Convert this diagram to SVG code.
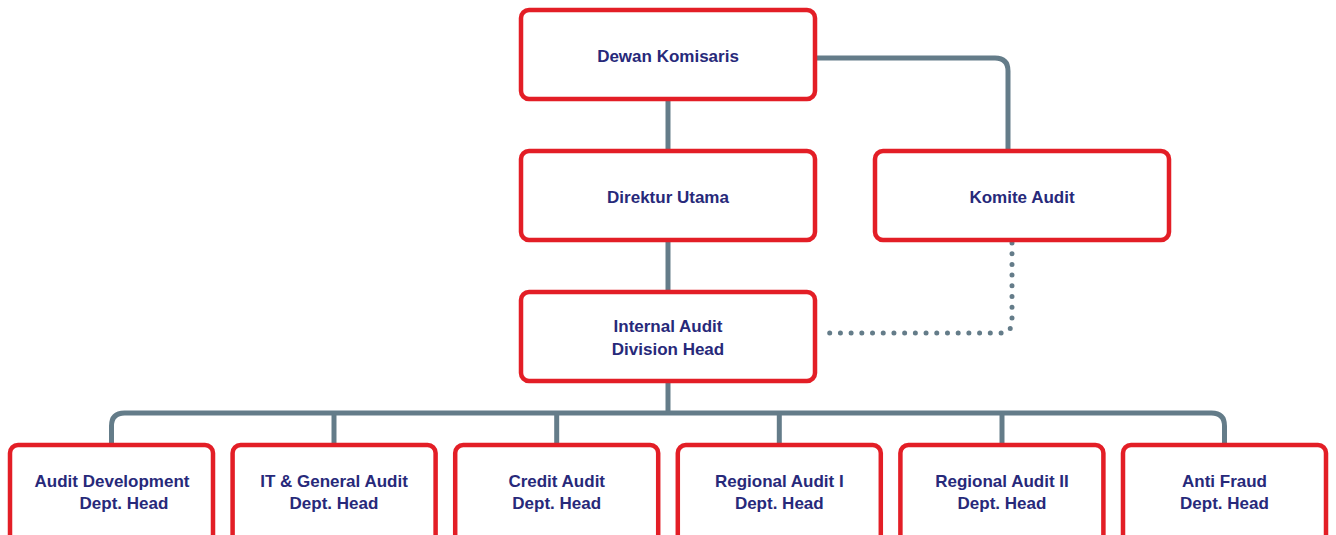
<svg xmlns="http://www.w3.org/2000/svg" width="1336" height="535" viewBox="0 0 1336 535">
  <style>
    .box { fill: #ffffff; stroke: #e31e26; stroke-width: 4.5; }
    .line { fill: none; stroke: #647c89; stroke-width: 5; }
    .dots { fill: none; stroke: #647c89; stroke-width: 5; stroke-linecap: round; stroke-dasharray: 0 1; }
    .label { font-family: "Liberation Sans", Arial, sans-serif; font-weight: bold; font-size: 17px; fill: #27297a; text-anchor: middle; }
  </style>
  <rect width="1336" height="535" fill="#ffffff"/>

  <!-- connectors, drawn beneath the boxes -->
  <g id="connectors">
    <path class="line" d="M668 99 V151"/>
    <path class="line" d="M668 240 V292"/>
    <path class="line" d="M815 58 H995 Q1008 58 1008 71 V151"/>
    <!-- dotted reporting line; pathLength keeps a dot on each end -->
    <path class="dots" pathLength="26" d="M1012 243 V321 Q1012 333 1000 333 H819"/>
    <path class="line" d="M668 381 V413"/>
    <path class="line" d="M111.5 445 V426 Q111.5 413 124.5 413 H1211.5 Q1224.5 413 1224.5 426 V445"/>
    <path class="line" d="M334 413 V445"/>
    <path class="line" d="M556.7 413 V445"/>
    <path class="line" d="M779.3 413 V445"/>
    <path class="line" d="M1002 413 V445"/>
  </g>

  <g id="dewan-komisaris">
    <rect class="box" x="521" y="10" width="294" height="89" rx="8"/>
    <text class="label" x="668" y="62">Dewan Komisaris</text>
  </g>

  <g id="direktur-utama">
    <rect class="box" x="521" y="151" width="294" height="89" rx="8"/>
    <text class="label" x="668" y="203">Direktur Utama</text>
  </g>

  <g id="komite-audit">
    <rect class="box" x="875" y="151" width="294" height="89" rx="8"/>
    <text class="label" x="1022" y="203">Komite Audit</text>
  </g>

  <g id="internal-audit">
    <rect class="box" x="521" y="292" width="294" height="89" rx="8"/>
    <text class="label" x="668" y="332">Internal Audit</text>
    <text class="label" x="668" y="355">Division Head</text>
  </g>

  <g id="audit-development">
    <rect class="box" x="10" y="445" width="203" height="100" rx="8"/>
    <text class="label" x="112" y="487">Audit Development</text>
    <text class="label" x="124" y="509">Dept. Head</text>
  </g>

  <g id="it-general-audit">
    <rect class="box" x="232.6" y="445" width="203" height="100" rx="8"/>
    <text class="label" x="334" y="487">IT &amp; General Audit</text>
    <text class="label" x="334" y="509">Dept. Head</text>
  </g>

  <g id="credit-audit">
    <rect class="box" x="455.2" y="445" width="203" height="100" rx="8"/>
    <text class="label" x="556.7" y="487">Credit Audit</text>
    <text class="label" x="556.7" y="509">Dept. Head</text>
  </g>

  <g id="regional-audit-1">
    <rect class="box" x="677.8" y="445" width="203" height="100" rx="8"/>
    <text class="label" x="779.3" y="487">Regional Audit I</text>
    <text class="label" x="779.3" y="509">Dept. Head</text>
  </g>

  <g id="regional-audit-2">
    <rect class="box" x="900.4" y="445" width="203" height="100" rx="8"/>
    <text class="label" x="1002" y="487">Regional Audit II</text>
    <text class="label" x="1002" y="509">Dept. Head</text>
  </g>

  <g id="anti-fraud">
    <rect class="box" x="1123" y="445" width="203" height="100" rx="8"/>
    <text class="label" x="1224.5" y="487">Anti Fraud</text>
    <text class="label" x="1224.5" y="509">Dept. Head</text>
  </g>
</svg>
